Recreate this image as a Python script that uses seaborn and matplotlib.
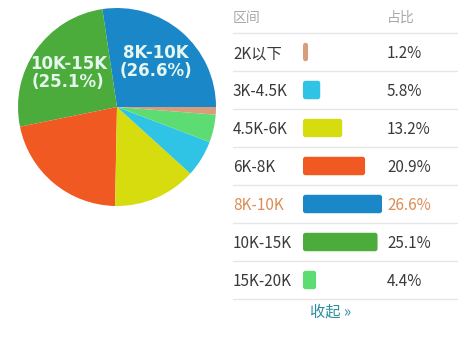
import matplotlib
matplotlib.use("Agg")
import matplotlib.pyplot as plt
import seaborn as sns
import pandas as pd
import numpy as np
from matplotlib.patches import FancyBboxPatch

sns.set_theme(style="white")
plt.rcParams['font.family'] = ['Noto Sans CJK SC', 'DejaVu Sans']

# ---- data ----
categories = ["2K以下", "3K-4.5K", "4.5K-6K", "6K-8K", "8K-10K", "10K-15K", "15K-20K"]
shares = [1.2, 5.8, 13.2, 20.9, 26.6, 25.1, 4.4]
colors = ["#d99d7c", "#2fc3e6", "#d6dc0e", "#f05a22", "#1a87c9", "#4bab3b", "#5edc74"]
pie_order = ["8K-10K", "10K-15K", "6K-8K", "4.5K-6K", "3K-4.5K", "15K-20K", "2K以下"]
labeled = ["8K-10K", "10K-15K"]
highlight = "8K-10K"
header_left = "区间"
header_right = "占比"
footer = "收起 »"

W, H = 463, 337
fig = plt.figure(figsize=(W / 100, H / 100), dpi=100)
fig.patch.set_facecolor("white")

# ---- pie ----
cx, cy, r = 117, 107, 99
ax_pie = fig.add_axes([(cx - r) / W, (H - cy - r) / H, 2 * r / W, 2 * r / H])
cmap = dict(zip(categories, colors))
vals = dict(zip(categories, shares))
wedges, _ = ax_pie.pie([vals[c] for c in pie_order], colors=[cmap[c] for c in pie_order],
                       startangle=0, counterclock=True, radius=1,
                       wedgeprops=dict(linewidth=0))
ax_pie.set_xlim(-1, 1)
ax_pie.set_ylim(-1, 1)
ax_pie.set_aspect("equal")
ax_pie.axis("off")
for w, c in zip(wedges, pie_order):
    if c in labeled:
        mid = np.deg2rad((w.theta1 + w.theta2) / 2)
        ax_pie.text(0.6 * np.cos(mid), 0.6 * np.sin(mid), f"{c}\n({vals[c]}%)",
                    ha="center", va="center", color="#e4f6ee", fontsize=12,
                    fontweight="bold", family=["DejaVu Sans"], linespacing=1.05)

# ---- table with bars ----
x0, x1 = 233, 458
bar_x0 = 303
pxper = 2.97
row0, rowh = 52, 38
ax = fig.add_axes([x0 / W, 0, (x1 - x0) / W, 1])
df = pd.DataFrame({"cat": categories, "share": shares})
sns.barplot(data=df, y="cat", x="share", hue="cat", palette=colors, orient="h",
            width=18 / rowh, legend=False, ax=ax, saturation=1)
ax.set_xlim(-(bar_x0 - x0) / pxper, (x1 - bar_x0) / pxper)
ax.set_ylim((H - row0) / rowh, -row0 / rowh)
ax.axis("off")

# rounded bars
for p in list(ax.patches):
    bx, by, bw, bh = p.get_x(), p.get_y(), p.get_width(), p.get_height()
    fc = p.get_facecolor()
    p.remove()
    rr = 2.5 / pxper
    ax.add_patch(FancyBboxPatch((bx + rr, by + 0.06), max(bw - 2 * rr, 0.01), bh - 0.12,
                                boxstyle=f"round,pad={rr},rounding_size={rr}",
                                mutation_aspect=(pxper / rowh),
                                facecolor=fc, edgecolor="none"))

xl = ax.get_xlim()[0]
xp = (387 - bar_x0) / pxper
ax.text(xl, -0.9, header_left, ha="left", va="center", color="#a8a8a8", fontsize=10,
        fontweight="light")
ax.text(xp, -0.9, header_right, ha="left", va="center", color="#a8a8a8", fontsize=10,
        fontweight="light")
for i, (c, s) in enumerate(zip(categories, shares)):
    col = "#dc8c55" if c == highlight else "#3a3a3a"
    ax.text(xl, i + 0.05, c, ha="left", va="center", color=col, fontsize=11,
            fontweight="light")
    ax.text(xp, i + 0.05, f"{s}%", ha="left", va="center", color=col, fontsize=11,
            fontweight="light")
for i in range(len(categories) + 1):
    ax.axhline(i - 0.5, color="#e6e6e6", linewidth=1)
ax.text((331 - bar_x0) / pxper, len(categories) - 0.16, footer, ha="center", va="center",
        color="#2b8fa3", fontsize=11, fontweight="light")

fig.savefig("out.png", dpi=100, facecolor="white")
